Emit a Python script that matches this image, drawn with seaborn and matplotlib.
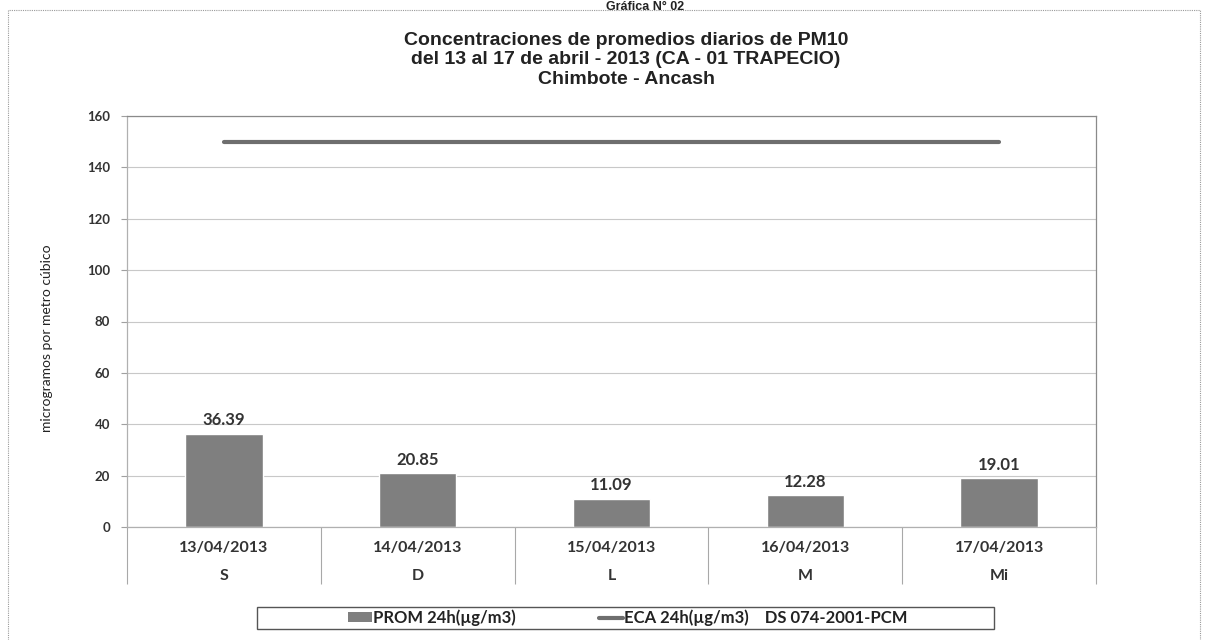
import numpy as np
import seaborn as sns
import matplotlib.pyplot as plt
from matplotlib.patches import Patch, Rectangle
from matplotlib.lines import Line2D
from matplotlib.ticker import FixedLocator, MultipleLocator

# data
dates = ['13/04/2013', '14/04/2013', '15/04/2013', '16/04/2013', '17/04/2013']
days = ['S', 'D', 'L', 'M', 'Mi']
prom_24h = [36.39, 20.85, 11.09, 12.28, 19.01]
eca_24h = [150, 150, 150, 150, 150]

sns.set_style('white')
plt.rcParams['font.family'] = ['Lato', 'DejaVu Sans']

W, H = 1208, 640
fig = plt.figure(figsize=(W / 100, H / 100), dpi=100)
ax = fig.add_axes([127 / W, 1 - 527 / H, (1096 - 127) / W, (527 - 116) / H])

pos = np.arange(len(dates))
sns.barplot(x=pos, y=prom_24h, color='#7f7f7f', width=0.4, saturation=1,
            native_scale=True, ax=ax)
sns.lineplot(x=pos, y=eca_24h, color='#6e6e6e', lw=3, ax=ax)

ax.bar_label(ax.containers[0], fmt='%.2f', padding=4, fontsize=12,
             fontweight='bold', color='#333333')

ax.set_xlim(-0.5, len(dates) - 0.5)
ax.set_ylim(0, 160)
ax.yaxis.set_major_locator(MultipleLocator(20))
ax.grid(axis='y', color='#c8c8c8', lw=0.8)
ax.set_axisbelow(True)

# two-level category axis: dates and days, with separators between groups
ax.set_xticks(pos)
ax.set_xticklabels([d + '\n' + s for d, s in zip(dates, days)],
                   fontsize=11.5, fontweight='bold', color='#333333',
                   linespacing=2.3)
ax.xaxis.set_minor_locator(FixedLocator(np.arange(-0.5, len(dates), 1)))
ax.tick_params(axis='x', which='major', length=0, pad=10)
ax.tick_params(axis='x', which='minor', bottom=True, length=41, width=0.8,
               color='#a8a8a8', direction='out')
ax.tick_params(axis='y', left=True, length=4, width=0.8, color='#a0a0a0',
               labelsize=9.5, pad=8, labelcolor='#333333')
for lab in ax.get_yticklabels():
    lab.set_fontweight('bold')

for side in ['top', 'right', 'left', 'bottom']:
    ax.spines[side].set_color('#8a8a8a')
    ax.spines[side].set_linewidth(0.9)
ax.spines['left'].set_color('#b0b0b0')
ax.spines['bottom'].set_color('#b0b0b0')

ax.set_xlabel('')
ax.set_ylabel('microgramos por metro cúbico', fontsize=10, color='#222222')
ax.yaxis.set_label_coords((53 - 127) / (1096 - 127), 0.46)

# titles
fig.text(645 / W, 1 - 0.5 / H, 'Gráfica N° 02', ha='center', va='top',
         fontsize=9, fontweight='bold', family='Liberation Sans',
         color='#222222')
fig.text(626 / W, 1 - 60 / H,
         'Concentraciones de promedios diarios de PM10\n'
         'del 13 al 17 de abril - 2013 (CA - 01 TRAPECIO)\n'
         'Chimbote - Ancash',
         ha='center', va='center', fontsize=14, fontweight='bold',
         family='Liberation Sans', color='#222222', linespacing=1.18)

# outer dotted frame of the chart area
fig.add_artist(Line2D([8 / W, 8 / W, 1200 / W, 1200 / W],
                      [0, 1 - 10 / H, 1 - 10 / H, 0],
                      transform=fig.transFigure, color='#9a9a9a', lw=0.8,
                      ls=(0, (1, 1))))

# legend with its own box
handles = [Patch(facecolor='#7f7f7f', edgecolor='none'),
           Line2D([0], [0], color='#6e6e6e', lw=3)]
labels = ['PROM 24h(µg/m3)', 'ECA 24h(µg/m3)    DS 074-2001-PCM']
fig.legend(handles, labels, ncol=2, loc='center',
           bbox_to_anchor=(628 / W, 1 - 618 / H), frameon=False,
           prop={'size': 12, 'weight': 'bold'}, handlelength=1.4,
           handleheight=0.55, handletextpad=0.1, columnspacing=5.0,
           labelcolor='#222222')
fig.add_artist(Rectangle((257 / W, 1 - 629 / H), 737 / W, 22 / H,
                         transform=fig.transFigure, fill=False,
                         edgecolor='#555555', lw=1))

fig.savefig('out.png', dpi=100, facecolor='white')
